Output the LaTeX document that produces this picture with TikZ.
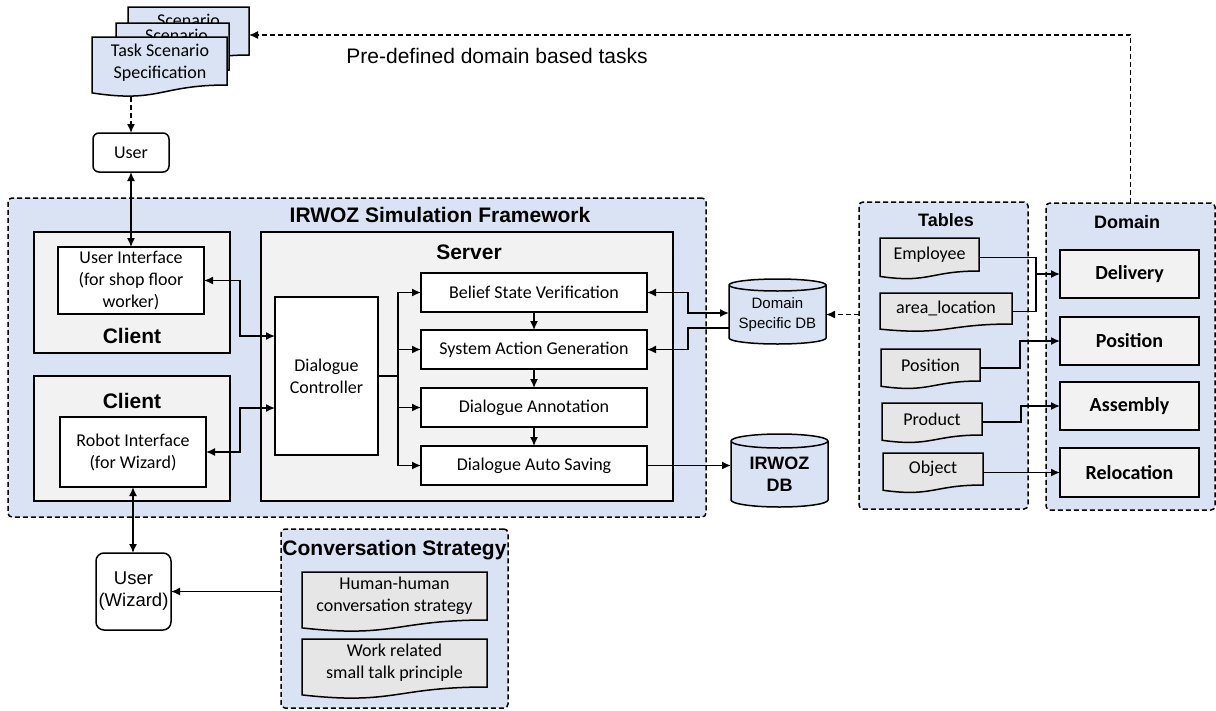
\documentclass[tikz,border=0pt]{standalone}
\usepackage{fontspec}
\setmainfont{Carlito}
\newfontfamily\arialf{Liberation Sans}
\usetikzlibrary{arrows.meta,calc}
\definecolor{blueF}{HTML}{DAE3F3}
\definecolor{greyF}{HTML}{F2F2F2}
\definecolor{docG}{HTML}{E7E6E6}
\newcommand{\drawdoc}[2]{%
  \path[draw=black,line width=1.5pt,fill=#2]
    let \p1=(#1.north west), \p2=(#1.south east) in
    (\x1,\y1) -- (\x2,\y1) -- (\x2,\y2)
    .. controls ({0.5*\x1+0.5*\x2},\y2) and ({0.5*\x1+0.5*\x2},{\y1+1.381*(\y2-\y1)}) ..
    (\x1,{\y1+1.1646*(\y2-\y1)}) -- cycle;}
\newcommand{\drawcyl}[2]{%
  \path[draw=black,line width=1.5pt,fill=blueF]
    let \p1=(#1.north west), \p2=(#1.south east) in
    (\x1,{\y1+#2}) -- (\x1,\y2)
    arc[start angle=180,end angle=360,x radius={(\x2-\x1)/2},y radius=#2]
    -- (\x2,{\y1+#2})
    arc[start angle=0,end angle=180,x radius={(\x2-\x1)/2},y radius=#2] -- cycle
    (\x1,{\y1+#2}) arc[start angle=180,end angle=360,x radius={(\x2-\x1)/2},y radius=#2];}
\begin{document}
\begin{tikzpicture}[x=1pt,y=-1pt,
  >={Latex[length=9pt,width=8pt]},
  lw/.style={line width=1.5pt},
  cal/.style={font=\fontsize{18}{22}\selectfont},
  calb/.style={font=\bfseries\fontsize{20}{24}\selectfont},
  ttlA/.style={font=\arialf\bfseries\fontsize{21}{25}\selectfont, inner sep=0pt},
  ttlB/.style={font=\arialf\bfseries\fontsize{18}{22}\selectfont, inner sep=0pt},
  arl/.style={font=\arialf\fontsize{21}{25}\selectfont, inner sep=0pt},
  arlS/.style={font=\arialf\fontsize{15}{20}\selectfont, align=center, inner sep=0pt},
  arlW/.style={font=\arialf\fontsize{18.5}{22}\selectfont},
  container/.style={draw, lw, dash pattern=on 5pt off 3pt, rounded corners=4pt, fill=blueF, inner sep=0pt, outer sep=0pt},
  panel/.style={draw, lw, fill=greyF, inner sep=0pt, outer sep=0pt},
  wbox/.style={draw, lw, fill=white, inner sep=2pt, outer sep=0pt, align=center, cal},
  gbox/.style={draw, lw, fill=greyF, inner sep=2pt, outer sep=0pt, align=center, calb},
  docnode/.style={inner sep=0pt, outer sep=0pt},
  doctext/.style={cal, align=center, inner sep=0pt},
  conn/.style={lw, ->},
  dconn/.style={lw, <->},
  dashconn/.style={lw, ->, dash pattern=on 5pt off 3pt}
]
\useasboundingbox (0,0) rectangle (1216,710);

% --- task scenario documents ---
\node[docnode, minimum width=121pt, minimum height=48pt] (scen3) at (188.5,31) {};
\drawdoc{scen3}{blueF}
\node[cal, anchor=base, inner sep=0pt] (scen3-t) at (188.5,26.5) {Scenario};
\node[docnode, minimum width=113pt, minimum height=47pt] (scen2) at (172.5,46.5) {};
\drawdoc{scen2}{blueF}
\node[cal, anchor=base, inner sep=0pt] (scen2-t) at (176.5,41) {Scenario};
\node[docnode, minimum width=135pt, minimum height=48pt] (task) at (159.5,61) {};
\drawdoc{task}{blueF}
\node[doctext] (task-t) at (160,62.5) {Task Scenario\\Specification};

\node[arl] (pre) at (497,56) {Pre-defined domain based tasks};

\node[wbox, rounded corners=6pt, minimum width=76pt, minimum height=39pt] (user) at (131,152.5) {User};

% --- framework ---
\node[container, minimum width=698pt, minimum height=319pt] (fw) at (357,357.5) {};
\node[ttlA] (fw-t) at (440,215) {IRWOZ Simulation Framework};

\node[panel, minimum width=196pt, minimum height=121pt] (c1) at (132,292.5) {};
\node[ttlA] (c1-t) at (132,336) {Client};
\node[wbox, minimum width=146pt, minimum height=67pt] (ui) at (131,280.5) {User Interface\\(for shop floor\\worker)};

\node[panel, minimum width=196pt, minimum height=125pt] (c2) at (132,438.5) {};
\node[ttlA] (c2-t) at (132,401) {Client};
\node[wbox, minimum width=146pt, minimum height=70pt] (ri) at (133,452) {Robot Interface\\(for Wizard)};

\node[panel, minimum width=412pt, minimum height=269pt] (srv) at (467,366.5) {};
\node[ttlA] (srv-t) at (469,252) {Server};
\node[wbox, minimum width=103pt, minimum height=158pt] (dc) at (326.5,376) {Dialogue\\Controller};
\node[wbox, minimum width=226pt, minimum height=39pt] (bsv) at (534,292.5) {Belief State Verification};
\node[wbox, minimum width=226pt, minimum height=39pt] (sag) at (534,349.5) {System Action Generation};
\node[wbox, minimum width=226pt, minimum height=39pt] (dan) at (534,407.5) {Dialogue Annotation};
\node[wbox, minimum width=226pt, minimum height=39pt] (das) at (534,465.5) {Dialogue Auto Saving};

\coordinate (bus) at (398,376);
\draw[conn] (dc.east) -- (bus) |- (bsv.west);
\draw[conn] (bus) |- (sag.west);
\draw[conn] (bus) |- (dan.west);
\draw[conn] (bus) |- (das.west);
\draw[conn] (bsv.south) -- (sag.north);
\draw[conn] (sag.south) -- (dan.north);
\draw[conn] (dan.south) -- (das.north);

% --- databases ---
\node[docnode, minimum width=97pt, minimum height=47pt] (dsdb) at (777.5,314.5) {};
\drawcyl{dsdb}{6pt}
\node[arlS] (dsdb-t) at (dsdb) {Domain\\Specific DB};

\node[docnode, minimum width=97pt, minimum height=52pt] (irdb) at (779.5,474) {};
\drawcyl{irdb}{7pt}
\node[ttlB, align=center] (irdb-t) at (irdb) {IRWOZ\\DB};

\draw[dconn] (bsv.east) -- ++(41,0) |- ([yshift=1.5pt]dsdb.west);
\draw[conn] ([yshift=-13.5pt]dsdb.west) -- ++(-41,0) |- (sag.east);
\draw[conn] (das.east) -- (das.east -| irdb.west);

% --- tables ---
\node[container, minimum width=169pt, minimum height=307pt] (tbl) at (943.5,355.5) {};
\node[ttlB] (tbl-t) at (946,220) {Tables};
\node[docnode, minimum width=99pt, minimum height=33pt] (emp) at (929.5,254.5) {};
\drawdoc{emp}{docG}
\node[doctext] (emp-t) at (emp) {Employee};
\node[docnode, minimum width=132pt, minimum height=31pt] (area) at (946,308.5) {};
\drawdoc{area}{docG}
\node[doctext] (area-t) at (area) {area\_location};
\node[docnode, minimum width=99pt, minimum height=32pt] (tpos) at (930.5,365) {};
\drawdoc{tpos}{docG}
\node[doctext] (tpos-t) at (tpos) {Position};
\node[docnode, minimum width=100pt, minimum height=32pt] (tprod) at (932,419) {};
\drawdoc{tprod}{docG}
\node[doctext] (tprod-t) at (tprod) {Product};
\node[docnode, minimum width=100pt, minimum height=32pt] (tobj) at (933,469) {};
\drawdoc{tobj}{docG}
\node[doctext] (tobj-t) at (tobj) {Object};

\draw[dashconn] (tbl.west |- dsdb.east) -- (dsdb.east);

% --- domain ---
\node[container, minimum width=169pt, minimum height=307pt] (dom) at (1130.5,356.5) {};
\node[ttlB] (dom-t) at (1127,222) {Domain};
\node[gbox, minimum width=139pt, minimum height=48pt] (ddel) at (1129.5,274) {Delivery};
\node[gbox, minimum width=139pt, minimum height=48pt] (dpos) at (1129.5,341) {Position};
\node[gbox, minimum width=139pt, minimum height=48pt] (dasm) at (1129.5,406) {Assembly};
\node[gbox, minimum width=139pt, minimum height=49pt] (drel) at (1129.5,472.5) {Relocation};

\coordinate (bj) at (1036,274);
\draw[lw] ([yshift=-3pt]emp.east) -| (bj) |- ([yshift=-3pt]area.east);
\draw[conn] (bj) -- (ddel.west);
\draw[conn] ([yshift=-3pt]tpos.east) -- ++(40,0) |- (dpos.west);
\draw[conn] ([yshift=-3pt]tprod.east) -- ++(39,0) |- (dasm.west);
\draw[conn] (drel.west -| tobj.east) -- (drel.west);

\draw[dashconn] (dom.north) |- ([yshift=-4pt]scen3.east);

% --- user links ---
\draw[dashconn] ([yshift=36pt]user.north) -- (user.north);
\draw[dconn] (user.south) -- (ui.north);
\draw[dconn] (ui.east) -- ++(36,0) |- ([yshift=40pt]dc.west);
\draw[dconn] (ri.east) -- ++(34,0) |- ([yshift=-32pt]dc.west);

% --- wizard and conversation strategy ---
\node[wbox, arlW, rounded corners=8pt, minimum width=75pt, minimum height=77pt] (wiz) at (133.5,591.5) {User\\(Wizard)};
\draw[dconn] (ri.south) -- (ri.south |- wiz.north);

\node[container, minimum width=227pt, minimum height=179pt] (conv) at (394.5,618.5) {};
\node[ttlA] (conv-t) at (394.5,550) {Conversation Strategy};
\node[docnode, minimum width=185pt, minimum height=48pt] (hh) at (394.5,596) {};
\drawdoc{hh}{docG}
\node[doctext] (hh-t) at (hh) {Human-human\\conversation strategy};
\node[docnode, minimum width=185pt, minimum height=48pt] (wr) at (394.5,663) {};
\drawdoc{wr}{docG}
\node[doctext] (wr-t) at (wr) {Work related\\small talk principle};
\draw[conn] (conv.west |- wiz.east) -- (wiz.east);
\end{tikzpicture}
\end{document}
